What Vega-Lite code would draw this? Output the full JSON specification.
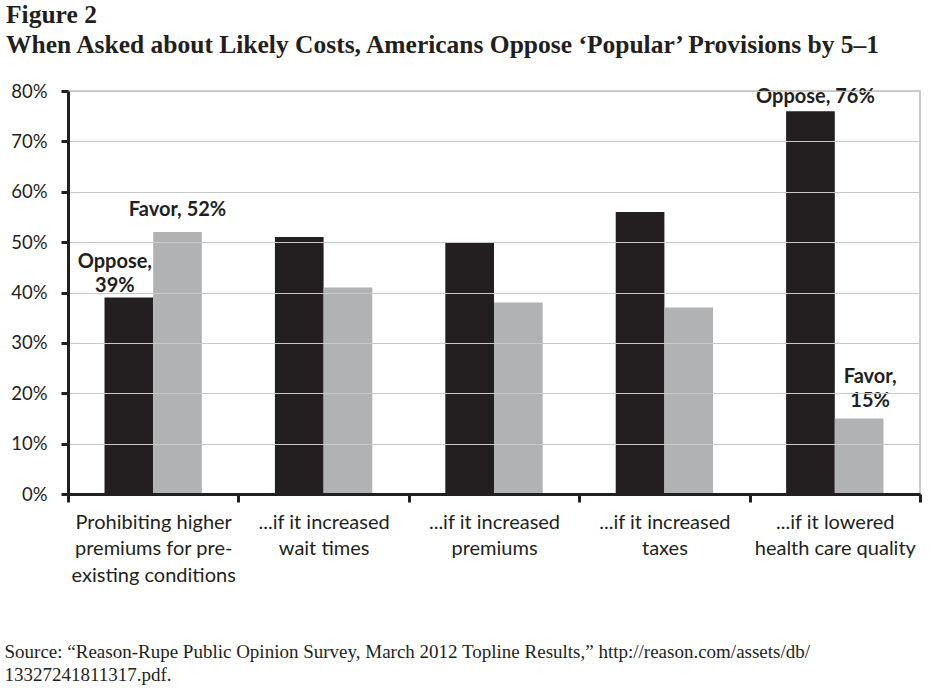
{
  "$schema": "https://vega.github.io/schema/vega-lite/v6.json",
  "width": 852,
  "height": 403,
  "autosize": "none",
  "padding": {"left": 68, "top": 91, "right": 25, "bottom": 196},
  "background": "white",
  "config": {
    "view": {"stroke": "#bdbdbd", "strokeWidth": 1.5},
    "font": "Lato"
  },
  "title": {
    "text": ["Figure 2", "When Asked about Likely Costs, Americans Oppose ‘Popular’ Provisions by 5–1"],
    "anchor": "start",
    "frame": "group",
    "dx": -62,
    "offset": 24,
    "font": "Liberation Serif",
    "fontSize": 25.5,
    "fontWeight": "bold",
    "lineHeight": 30,
    "color": "#231f20"
  },
  "data": {
    "values": [
      {"cat": "Prohibiting higher|premiums for pre-|existing conditions", "series": "Oppose", "value": 39, "note": ["Oppose,", "39%"]},
      {"cat": "Prohibiting higher|premiums for pre-|existing conditions", "series": "Favor", "value": 52, "note": "Favor, 52%"},
      {"cat": "...if it increased|wait times", "series": "Oppose", "value": 51, "note": null},
      {"cat": "...if it increased|wait times", "series": "Favor", "value": 41, "note": null},
      {"cat": "...if it increased|premiums", "series": "Oppose", "value": 50, "note": null},
      {"cat": "...if it increased|premiums", "series": "Favor", "value": 38, "note": null},
      {"cat": "...if it increased|taxes", "series": "Oppose", "value": 56, "note": null},
      {"cat": "...if it increased|taxes", "series": "Favor", "value": 37, "note": null},
      {"cat": "...if it lowered|health care quality", "series": "Oppose", "value": 76, "note": "Oppose, 76%"},
      {"cat": "...if it lowered|health care quality", "series": "Favor", "value": 15, "note": ["Favor,", "15%"]}
    ]
  },
  "encoding": {
    "x": {
      "field": "cat",
      "type": "nominal",
      "sort": null,
      "scale": {"paddingInner": 0, "paddingOuter": 0},
      "axis": {
        "title": ["Source: “Reason-Rupe Public Opinion Survey, March 2012 Topline Results,” http://reason.com/assets/db/", "13327241811317.pdf."],
        "titleFont": "Liberation Serif",
        "titleFontSize": 19,
        "titleFontWeight": "normal",
        "titleColor": "#231f20",
        "titleAnchor": "start",
        "titleAlign": "left",
        "titleBaseline": "alphabetic",
        "titleX": -64,
        "titleY": 163,
        "titleLineHeight": 23,
        "titleLimit": 1000,
        "labelExpr": "split(datum.label, '|')",
        "labelAngle": 0,
        "labelFont": "Lato",
        "labelFontSize": 20,
        "labelLineHeight": 26.5,
        "labelColor": "#231f20",
        "labelPadding": 10,
        "labelLimit": 300,
        "tickBand": "extent",
        "tickColor": "#231f20",
        "tickWidth": 3,
        "tickSize": 8,
        "domainColor": "#231f20",
        "domainWidth": 3,
        "zindex": 1
      }
    },
    "xOffset": {
      "field": "series",
      "type": "nominal",
      "sort": ["Oppose", "Favor"],
      "scale": {"paddingOuter": 0.75, "paddingInner": 0}
    },
    "y": {
      "field": "value",
      "type": "quantitative",
      "scale": {"domain": [0, 80], "nice": false},
      "axis": {
        "title": null,
        "values": [0, 10, 20, 30, 40, 50, 60, 70, 80],
        "labelExpr": "datum.value + '%'",
        "labelFont": "Lato",
        "labelFontSize": 18.5,
        "labelColor": "#231f20",
        "labelPadding": 14,
        "tickColor": "#231f20",
        "tickWidth": 3,
        "tickSize": 7,
        "domainColor": "#231f20",
        "domainWidth": 3,
        "gridColor": "#c8c8c8",
        "gridWidth": 1.2,
        "zindex": 1
      }
    }
  },
  "layer": [
    {
      "mark": {"type": "bar", "stroke": null},
      "encoding": {
        "color": {
          "field": "series",
          "type": "nominal",
          "scale": {"domain": ["Oppose", "Favor"], "range": ["#231f20", "#b1b2b4"]},
          "legend": null
        }
      }
    },
    {
      "transform": [{"filter": "datum.value == 39 && datum.series == 'Oppose'"}],
      "mark": {"type": "text", "baseline": "alphabetic", "dy": -30, "dx": -14, "fontWeight": "bold", "fontSize": 20, "font": "Lato", "lineHeight": 24, "color": "#231f20"},
      "encoding": {"text": {"field": "note", "type": "nominal"}}
    },
    {
      "transform": [{"filter": "datum.value == 52 && datum.series == 'Favor'"}],
      "mark": {"type": "text", "baseline": "alphabetic", "dy": -16, "dx": 0, "fontWeight": "bold", "fontSize": 20, "font": "Lato", "lineHeight": 24, "color": "#231f20"},
      "encoding": {"text": {"field": "note", "type": "nominal"}}
    },
    {
      "transform": [{"filter": "datum.value == 76 && datum.series == 'Oppose'"}],
      "mark": {"type": "text", "baseline": "alphabetic", "dy": -8, "dx": 5, "fontWeight": "bold", "fontSize": 20, "font": "Lato", "lineHeight": 24, "color": "#231f20"},
      "encoding": {"text": {"field": "note", "type": "nominal"}}
    },
    {
      "transform": [{"filter": "datum.value == 15 && datum.series == 'Favor'"}],
      "mark": {"type": "text", "baseline": "alphabetic", "dy": -35, "dx": 11, "fontWeight": "bold", "fontSize": 20, "font": "Lato", "lineHeight": 24, "color": "#231f20"},
      "encoding": {"text": {"field": "note", "type": "nominal"}}
    }
  ]
}
